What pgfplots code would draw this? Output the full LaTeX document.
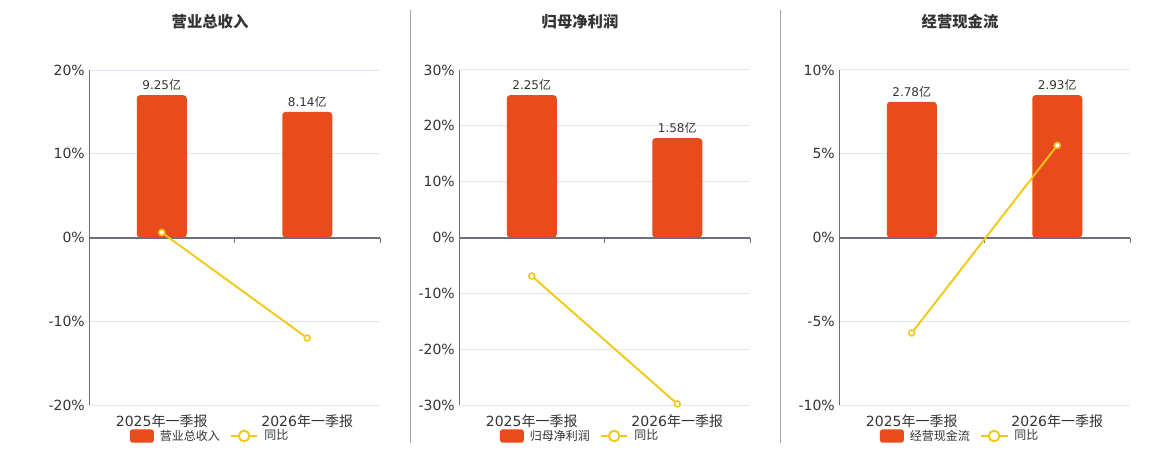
\documentclass[border=0pt]{standalone}
\usepackage{pgfplots}
\pgfplotsset{compat=1.18}
\usepackage{fontspec}
\setmainfont{DejaVu Sans}
\newfontfamily\cjk{Noto Sans CJK SC}
\definecolor{barcol}{HTML}{E84B1C}
\definecolor{linecol}{HTML}{F2C811}
\definecolor{gridcol}{HTML}{E0E6F1}
\definecolor{axiscol}{HTML}{6E7079}
\definecolor{txtcol}{HTML}{333333}
\pgfplotsset{
  panel/.style={
    scale only axis,
    width=218.25pt, height=251.25pt,
    anchor=south west,
    xmin=-0.5, xmax=1.5,
    axis line style={draw=none},
    major tick length=0pt,
    ymajorgrids, grid style={gridcol, line width=0.75pt},
    xtick={0,1},
    xticklabels={{2025{\cjk 年一季报}},{2026{\cjk 年一季报}}},
    tick label style={font=\fontsize{10.5}{12}\selectfont, text=txtcol},
    yticklabel style={inner sep=0pt, xshift=-3pt},
    xticklabel style={inner sep=0pt, yshift=-7pt},
    clip=false,
    legend columns=2,
    legend style={draw=none, fill=none, at={(0.4175,-0.0925)}, anchor=center,
      font=\fontsize{9}{10}\selectfont, text=txtcol,
      /tikz/every even column/.append style={column sep=5.5pt},
      /tikz/every odd column/.append style={column sep=2.5pt}},
    nodes near coords style={font=\fontsize{9}{10}\selectfont, text=txtcol, inner sep=2pt, yshift=1pt},
  },
  barplot/.style={ybar, bar width=37.5pt, fill=barcol, draw=none, rounded corners=2.5pt,
    point meta=explicit symbolic, nodes near coords,
    legend image code/.code={\fill[barcol, rounded corners=2pt] (0pt,-5pt) rectangle (18pt,5pt);}},
  lineplot/.style={linecol, line width=1.4pt, mark=*, mark size=2.2pt,
    mark options={fill=white, draw=linecol, line width=1.2pt},
    legend image code/.code={\draw[linecol, line width=1.4pt] (0pt,0pt) -- (20pt,0pt);
      \draw[linecol, fill=white, line width=1.4pt] (10pt,0pt) circle (4pt);}},
}
\newcommand{\axisdecor}{%
  \draw[axiscol, line width=0.75pt] (rel axis cs:0,0) -- (rel axis cs:0,1);
  \draw[axiscol, line width=1.5pt] (axis cs:-0.5,0) -- (axis cs:1.5,0);
  \draw[axiscol, line width=0.75pt] (axis cs:0.5,0) -- ([yshift=-4pt]axis cs:0.5,0);
  \draw[axiscol, line width=0.75pt] (axis cs:1.5,0) -- ([yshift=-4pt]axis cs:1.5,0);
}
\begin{document}
\begin{tikzpicture}
\useasboundingbox (0pt,0pt) rectangle (870pt,337.5pt);
% dividers
\draw[gray!70, line width=0.75pt] (307.5pt,5.25pt) -- (307.5pt,330pt);
\draw[gray!70, line width=0.75pt] (585pt,5.25pt) -- (585pt,330pt);
% titles
\node[font={\cjk\bfseries\fontsize{11.5}{13}\selectfont}, text=txtcol] at (157.5pt,321pt) {营业总收入};
\node[font={\cjk\bfseries\fontsize{11.5}{13}\selectfont}, text=txtcol] at (435pt,321pt) {归母净利润};
\node[font={\cjk\bfseries\fontsize{11.5}{13}\selectfont}, text=txtcol] at (720pt,321pt) {经营现金流};

% panel 1
\begin{axis}[panel, at={(66.75pt,33.75pt)}, ymin=-20, ymax=20,
  ytick={-20,-10,0,10,20}, yticklabels={-20\%,-10\%,0\%,10\%,20\%}]
\addplot[barplot] coordinates {(0,17.0) [9.25{\cjk 亿}] (1,15.0) [8.14{\cjk 亿}]};
\addlegendentry{{\cjk 营业总收入}}
\axisdecor
\addplot[lineplot] coordinates {(0,0.6) (1,-12.0)};
\addlegendentry{{\cjk 同比}}
\end{axis}

% panel 2
\begin{axis}[panel, at={(344.25pt,33.75pt)}, ymin=-30, ymax=30,
  ytick={-30,-20,-10,0,10,20,30}, yticklabels={-30\%,-20\%,-10\%,0\%,10\%,20\%,30\%}]
\addplot[barplot] coordinates {(0,25.5) [2.25{\cjk 亿}] (1,17.8) [1.58{\cjk 亿}]};
\addlegendentry{{\cjk 归母净利润}}
\axisdecor
\addplot[lineplot] coordinates {(0,-6.9) (1,-29.8)};
\addlegendentry{{\cjk 同比}}
\end{axis}

% panel 3
\begin{axis}[panel, at={(629.25pt,33.75pt)}, ymin=-10, ymax=10,
  ytick={-10,-5,0,5,10}, yticklabels={-10\%,-5\%,0\%,5\%,10\%}]
\addplot[barplot] coordinates {(0,8.1) [2.78{\cjk 亿}] (1,8.5) [2.93{\cjk 亿}]};
\addlegendentry{{\cjk 经营现金流}}
\axisdecor
\addplot[lineplot] coordinates {(0,-5.7) (1,5.5)};
\addlegendentry{{\cjk 同比}}
\end{axis}
\end{tikzpicture}
\end{document}
